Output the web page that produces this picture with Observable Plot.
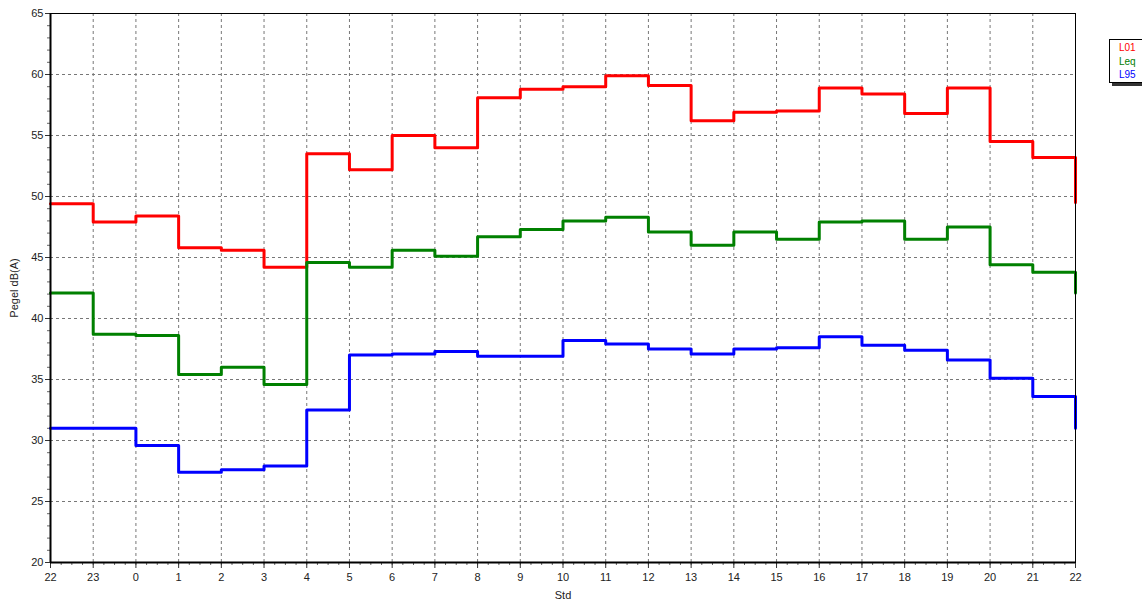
<!DOCTYPE html>
<html>
<head>
<meta charset="utf-8">
<script src="https://cdn.jsdelivr.net/npm/d3@7"></script>
<script src="https://cdn.jsdelivr.net/npm/@observablehq/plot@0.6"></script>
<style>
  html, body { margin: 0; padding: 0; background: #fff; }
  #wrap { position: relative; width: 1142px; height: 603px; overflow: hidden; font-family: "Liberation Sans", Arial, sans-serif; }
  #legend { position: absolute; left: 1109px; top: 39px; width: 26px; height: 41px; background: #fff; border: 1px solid #000; box-shadow: 3px 3px 0 #333; font-size: 10px; line-height: 13.5px; padding: 1px 0 0 9px; box-sizing: content-box; }
</style>
</head>
<body>
<div id="wrap"></div>
<script>
// Hour labels along x (index 0..24)
const hours = [22, 23, 0, 1, 2, 3, 4, 5, 6, 7, 8, 9, 10, 11, 12, 13, 14, 15, 16, 17, 18, 19, 20, 21, 22];
const seriesNames = ["L01", "Leq", "L95"];
const seriesColors = ["#ff0000", "#008000", "#0000ff"];
const L01 = [49.4, 47.9, 48.4, 45.8, 45.6, 44.2, 53.5, 52.2, 55.0, 54.0, 58.1, 58.8, 59.0, 59.9, 59.1, 56.2, 56.9, 57.0, 58.9, 58.4, 56.8, 58.9, 54.5, 53.2, 49.5];
const Leq = [42.1, 38.7, 38.6, 35.4, 36.0, 34.6, 44.6, 44.2, 45.6, 45.1, 46.7, 47.3, 48.0, 48.3, 47.1, 46.0, 47.1, 46.5, 47.9, 48.0, 46.5, 47.5, 44.4, 43.8, 42.1];
const L95 = [31.0, 31.0, 29.6, 27.4, 27.6, 27.9, 32.5, 37.0, 37.1, 37.3, 36.9, 36.9, 38.2, 37.9, 37.5, 37.1, 37.5, 37.6, 38.5, 37.8, 37.4, 36.6, 35.1, 33.6, 31.0];
const yTicks = [20, 25, 30, 35, 40, 45, 50, 55, 60, 65];

const table = [];
[L01, Leq, L95].forEach((arr, s) => arr.forEach((v, i) => table.push({ i, v, series: seriesNames[s] })));

const xIdx = d3.range(hours.length);
const xMinor = d3.range(0, 24.001, 0.25);
const yMinor = d3.range(20, 66, 1);

const chart = Plot.plot({
  width: 1142,
  height: 603,
  marginLeft: 50,
  marginTop: 13,
  marginRight: 67,
  marginBottom: 41,
  style: { fontFamily: "'Liberation Sans', Arial, sans-serif", fontSize: "11px", color: "#222", background: "#fff" },
  x: { domain: [0, 24] },
  y: { domain: [20, 65] },
  color: { domain: seriesNames, range: seriesColors },
  marks: [
    Plot.gridY(yTicks, { stroke: "#777", strokeOpacity: 1, strokeDasharray: "3,3" }),
    Plot.gridX(xIdx, { stroke: "#777", strokeOpacity: 1, strokeDasharray: "3,3" }),
    Plot.axisY(yMinor, { tickSize: 3, text: null, label: null, stroke: "#666" }),
    Plot.axisX(xMinor, { tickSize: 3, text: null, label: null, stroke: "#666" }),
    Plot.axisY(yTicks, { tickSize: 5, tickPadding: 2, fontSize: 11, label: "Pegel dB(A)", labelAnchor: "center", labelOffset: 40, labelArrow: "none", stroke: "#333" }),
    Plot.axisX(xIdx, { tickSize: 6, tickPadding: 5, fontSize: 11, tickFormat: i => String(hours[i]), label: "Std", labelAnchor: "center", labelOffset: 36, labelArrow: "none", stroke: "#333" }),
    Plot.line(table, { x: "i", y: "v", z: "series", stroke: "series", curve: "step-after", strokeWidth: 3 }),
    Plot.frame({ stroke: "#000", strokeWidth: 1 }),
    Plot.ruleX([0], { stroke: "#000", strokeWidth: 2 }),
    Plot.ruleY([20], { stroke: "#000", strokeWidth: 2 })
  ]
});
document.getElementById("wrap").appendChild(chart);

const legend = document.createElement("div");
legend.id = "legend";
legend.innerHTML = seriesNames.map((n, k) => `<div style="color:${seriesColors[k]}">${n}</div>`).join("");
document.getElementById("wrap").appendChild(legend);
</script>
</body>
</html>
